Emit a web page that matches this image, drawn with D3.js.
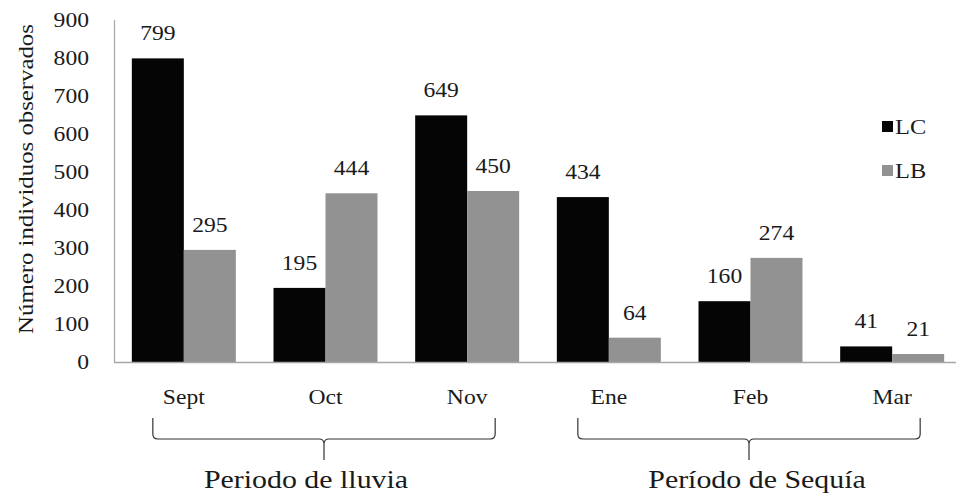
<!DOCTYPE html>
<html>
<head>
<meta charset="utf-8">
<script src="https://cdn.jsdelivr.net/npm/d3@7"></script>
<style>
  html, body { margin: 0; padding: 0; background: #fff; }
  svg { display: block; }
  text { font-family: "Liberation Serif", "Times New Roman", serif; fill: #1a1a1a; }
</style>
</head>
<body>
<svg id="chart" width="956" height="494"></svg>
<script>
// Monthly counts of observed individuals per site
const categories = ["Sept", "Oct", "Nov", "Ene", "Feb", "Mar"];
const seriesNames = ["LC", "LB"];
const valuesLC = [799, 195, 649, 434, 160, 41];
const valuesLB = [295, 444, 450, 64, 274, 21];
const yTicks = [0, 100, 200, 300, 400, 500, 600, 700, 800, 900];
const periods = [
  { label: "Periodo de lluvia", from: "Sept", to: "Nov" },
  { label: "Período de Sequía", from: "Ene", to: "Mar" }
];
const yTitle = "Número individuos observados";

const colors = { LC: "#050505", LB: "#929292" };
const SX = 1.18; // horizontal stretch of the serif lettering
const periodLabelShift = [-18, 8];

const svg = d3.select("#chart");
svg.append("rect").attr("width", 956).attr("height", 494).attr("fill", "#fff");

const y = d3.scaleLinear().domain([0, 900]).range([362, 20]);
const x0 = d3.scaleBand().domain(categories).range([113, 963])
  .paddingInner(0.266).paddingOuter(0.133);
const x1 = d3.scaleBand().domain(seriesNames).range([0, x0.bandwidth()]);

const rows = categories.map((c, i) => ({ cat: c, LC: valuesLC[i], LB: valuesLB[i] }));

function stretchedText(sel, x, yPos, sx) {
  return sel.attr("transform", `translate(${x},${yPos}) scale(${sx},1)`);
}

// Bars
const groups = svg.append("g").selectAll("g").data(rows).join("g")
  .attr("transform", d => `translate(${x0(d.cat)},0)`);

groups.selectAll("rect").data(d => seriesNames.map(k => ({ key: k, value: d[k] })))
  .join("rect")
  .attr("x", d => x1(d.key))
  .attr("y", d => y(d.value))
  .attr("width", x1.bandwidth())
  .attr("height", d => y(0) - y(d.value))
  .attr("fill", d => colors[d.key]);

// Value labels above bars
groups.selectAll("text.val").data(d => seriesNames.map(k => ({ key: k, value: d[k] })))
  .join("text").attr("class", "val")
  .attr("text-anchor", "middle")
  .attr("font-size", 20)
  .each(function (d) {
    stretchedText(d3.select(this), x1(d.key) + x1.bandwidth() / 2, y(d.value) - 18, SX);
  })
  .text(d => d.value);

// Axis lines
svg.append("line").attr("x1", 114.5).attr("x2", 114.5).attr("y1", 20).attr("y2", 362.5)
  .attr("stroke", "#a6a6a6").attr("stroke-width", 1.2);
svg.append("line").attr("x1", 114).attr("x2", 956).attr("y1", 362.5).attr("y2", 362.5)
  .attr("stroke", "#a6a6a6").attr("stroke-width", 1.5);

// Y tick labels
const yAxis = d3.axisLeft(y).tickValues(yTicks).tickSize(0).tickPadding(0);
const yg = svg.append("g").attr("transform", "translate(89,0)").call(yAxis);
yg.select(".domain").remove();
yg.selectAll(".tick text")
  .attr("font-size", 20)
  .attr("font-family", "Liberation Serif, serif")
  .attr("fill", "#1a1a1a")
  .attr("dy", "0.34em")
  .attr("transform", `scale(${SX},1)`)
  .attr("x", 0);

// Y axis title
svg.append("text")
  .attr("transform", "translate(33,179) rotate(-90) scale(1.24,1)")
  .attr("text-anchor", "middle")
  .attr("font-size", 20)
  .text(yTitle);

// Category labels
svg.append("g").selectAll("text").data(categories).join("text")
  .attr("text-anchor", "middle")
  .attr("font-size", 20)
  .each(function (d) {
    stretchedText(d3.select(this), x0(d) + x0.bandwidth() / 2, 404, SX);
  })
  .text(d => d);

// Curly braces grouping months into periods
function bracePath(xl, xr) {
  const xm = (xl + xr) / 2;
  const top = 418, mid = 439, tip = 460, r = 5;
  return [
    `M${xl},${top}`,
    `L${xl},${mid - r}`,
    `Q${xl},${mid} ${xl + r},${mid}`,
    `L${xm - r},${mid}`,
    `Q${xm},${mid} ${xm},${mid + r}`,
    `L${xm},${tip}`,
    `M${xm},${mid + r}`,
    `Q${xm},${mid} ${xm + r},${mid}`,
    `L${xr - r},${mid}`,
    `Q${xr},${mid} ${xr},${mid - r}`,
    `L${xr},${top}`
  ].join(" ");
}

const braceEnds = p => [
  x0(p.from) + x0.bandwidth() / 2 - 31,
  x0(p.to) + x0.bandwidth() / 2 + 28
];

const pg = svg.append("g").selectAll("g").data(periods).join("g");
pg.append("path")
  .attr("d", p => bracePath(...braceEnds(p)))
  .attr("fill", "none").attr("stroke", "#333").attr("stroke-width", 1.2);
pg.append("text")
  .attr("text-anchor", "middle")
  .attr("font-size", 26)
  .each(function (p, i) {
    const [xl, xr] = braceEnds(p);
    stretchedText(d3.select(this), (xl + xr) / 2 + periodLabelShift[i], 488, 1.15);
  })
  .text(p => p.label);

// Legend
const lg = svg.append("g").selectAll("g").data(seriesNames).join("g")
  .attr("transform", (d, i) => `translate(882,${121 + i * 44})`);
lg.append("rect").attr("width", 11).attr("height", 11).attr("fill", d => colors[d]);
lg.append("text")
  .attr("font-size", 20)
  .each(function () { stretchedText(d3.select(this), 13, 13, 1.22); })
  .text(d => d);
</script>
</body>
</html>
